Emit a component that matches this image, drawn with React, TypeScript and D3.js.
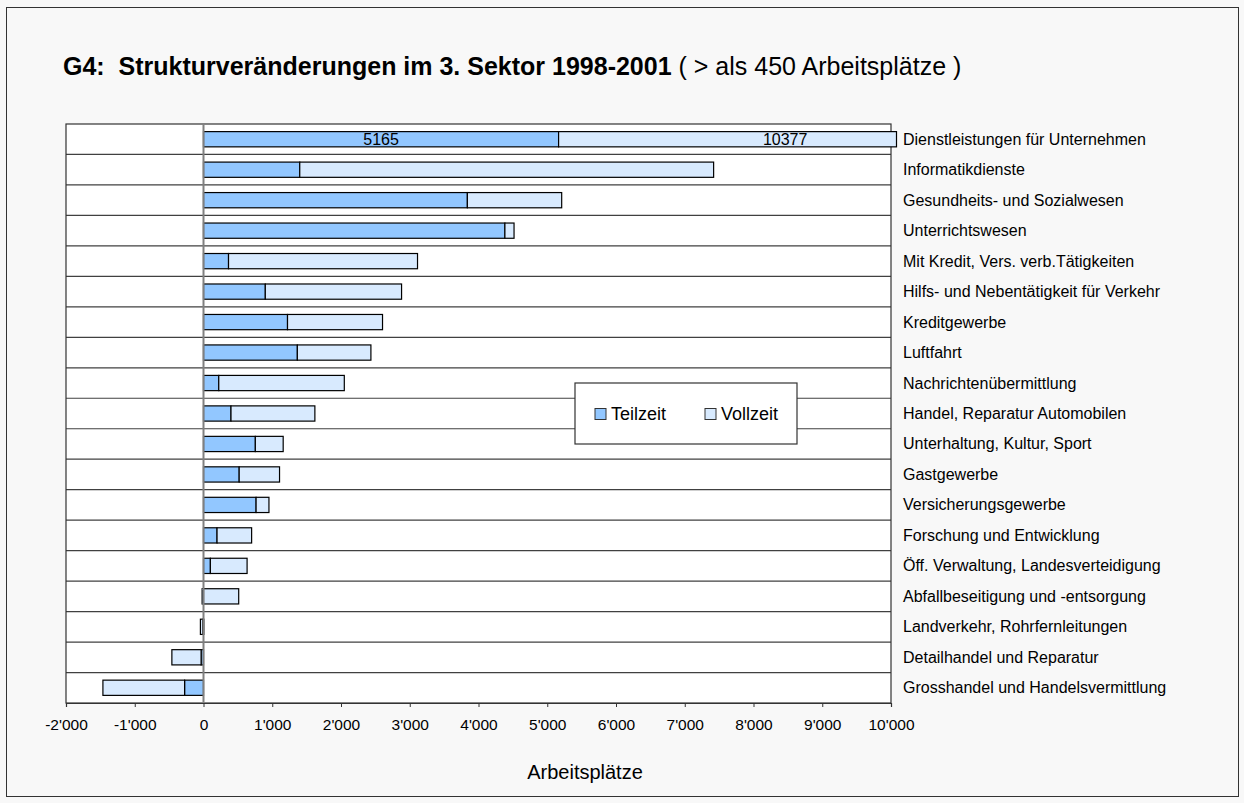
import { useEffect, useRef } from "react";
import * as d3 from "d3";

// categories, top to bottom
const categories = [
  "Dienstleistungen für Unternehmen",
  "Informatikdienste",
  "Gesundheits- und Sozialwesen",
  "Unterrichtswesen",
  "Mit Kredit, Vers. verb.Tätigkeiten",
  "Hilfs- und Nebentätigkeit für Verkehr",
  "Kreditgewerbe",
  "Luftfahrt",
  "Nachrichtenübermittlung",
  "Handel, Reparatur Automobilen",
  "Unterhaltung, Kultur, Sport",
  "Gastgewerbe",
  "Versicherungsgewerbe",
  "Forschung und Entwicklung",
  "Öff. Verwaltung, Landesverteidigung",
  "Abfallbeseitigung und -entsorgung",
  "Landverkehr, Rohrfernleitungen",
  "Detailhandel und Reparatur",
  "Grosshandel und Handelsvermittlung",
];

const teilzeit = [5165, 1400, 3838, 4384, 364, 899, 1222, 1365, 222, 400, 754, 519, 765, 197, 100, -20, -10, -35, -275];
const vollzeit = [10377, 6020, 1372, 133, 2749, 1982, 1382, 1070, 1826, 1220, 405, 587, 187, 503, 534, 512, -35, -425, -1188];

const xTicks = [-2000, -1000, 0, 1000, 2000, 3000, 4000, 5000, 6000, 7000, 8000, 9000, 10000];
const seriesNames = ["Teilzeit", "Vollzeit"];
const seriesColors = ["#92C7FF", "#D8EAFE"];

const W = 1244;
const H = 803;
const margin = { left: 66, right: 1244 - 891, top: 124, bottom: 803 - 703 };
const FONT = "'Liberation Sans', Arial, sans-serif";

// swiss thousands separator, plain hyphen for negatives
const fmt = (v: number) => d3.format(",")(v).replace(/,/g, "'").replace("\u2212", "-");

export default function App() {
  const ref = useRef<SVGSVGElement>(null);

  useEffect(() => {
    const svg = d3.select(ref.current);
    svg.selectAll("*").remove();

    const x = d3.scaleLinear().domain([-2000, 10000]).range([margin.left, W - margin.right]);
    const y = d3.scaleBand().domain(categories).range([margin.top, H - margin.bottom]).paddingInner(0).paddingOuter(0);
    const barH = y.bandwidth() * 0.5;

    // page background + outer frame
    svg.append("rect").attr("width", W).attr("height", H).attr("fill", "#F8F8F8");
    svg.append("rect").attr("x", 6.5).attr("y", 7.5).attr("width", W - 12).attr("height", H - 14)
      .attr("fill", "none").attr("stroke", "#333").attr("stroke-width", 1);

    // title
    const title = svg.append("text").attr("x", 63).attr("y", 75).attr("font-family", FONT).attr("font-size", 25).attr("fill", "#000");
    title.append("tspan").attr("font-weight", "bold").text("G4:\u00a0\u00a0Strukturveränderungen im 3. Sektor 1998-2001");
    title.append("tspan").text(" ( > als 450 Arbeitsplätze )");

    // plot area
    const x0 = x(-2000), x1 = x(10000);
    svg.append("rect").attr("x", x0).attr("y", margin.top).attr("width", x1 - x0).attr("height", H - margin.bottom - margin.top)
      .attr("fill", "#fff");

    // row separators
    const g = svg.append("g");
    categories.forEach((c, i) => {
      if (i === 0) return;
      g.append("line").attr("x1", x0).attr("x2", x1).attr("y1", y(c)!).attr("y2", y(c)!)
        .attr("stroke", "#404040").attr("stroke-width", 1.2);
    });
    svg.append("rect").attr("x", x0).attr("y", margin.top).attr("width", x1 - x0).attr("height", H - margin.bottom - margin.top)
      .attr("fill", "none").attr("stroke", "#333").attr("stroke-width", 1.2);

    // bars: positives and negatives stacked separately, clipped like the source
    const clipMax = 10080;
    const bars = svg.append("g");
    categories.forEach((c, i) => {
      const vals = [teilzeit[i], vollzeit[i]];
      let pos = 0, neg = 0;
      vals.forEach((v, k) => {
        let a: number, b: number;
        if (v >= 0) { a = pos; b = pos + v; pos = b; } else { a = neg; b = neg + v; neg = b; }
        const lo = Math.max(Math.min(a, b), -2000);
        const hi = Math.min(Math.max(a, b), clipMax);
        if (hi <= lo) return;
        bars.append("rect")
          .attr("x", x(lo)).attr("width", Math.max(x(hi) - x(lo), 1))
          .attr("y", y(c)! + (y.bandwidth() - barH) / 2).attr("height", barH)
          .attr("fill", seriesColors[k]).attr("stroke", "#000").attr("stroke-width", 1.2);
      });
    });

    // value labels for the clipped first bar
    const overflowLabelAt = 8460;
    const cy0 = y(categories[0])! + y.bandwidth() / 2;
    bars.append("text").attr("x", x(teilzeit[0] / 2)).attr("y", cy0 + 5.5).attr("text-anchor", "middle")
      .attr("font-family", FONT).attr("font-size", 16).text(teilzeit[0]);
    bars.append("text").attr("x", x(overflowLabelAt)).attr("y", cy0 + 5.5).attr("text-anchor", "middle")
      .attr("font-family", FONT).attr("font-size", 16).text(vollzeit[0]);

    // zero line
    svg.append("line").attr("x1", x(0)).attr("x2", x(0)).attr("y1", margin.top).attr("y2", H - margin.bottom)
      .attr("stroke", "#808080").attr("stroke-width", 2);

    // x axis
    const axis = svg.append("g").attr("transform", `translate(0,${H - margin.bottom})`)
      .call(d3.axisBottom(x).tickValues(xTicks).tickSize(4).tickPadding(12).tickFormat((d) => fmt(d as number)));
    axis.select(".domain").attr("stroke", "#333").attr("stroke-width", 1.2);
    axis.selectAll(".tick line").attr("stroke", "#333");
    axis.selectAll("text").attr("font-family", FONT).attr("font-size", 15.5).attr("fill", "#000");

    svg.append("text").attr("x", 585).attr("y", 779).attr("text-anchor", "middle")
      .attr("font-family", FONT).attr("font-size", 20).text("Arbeitsplätze");

    // category labels on the right
    svg.append("g").selectAll("text").data(categories).join("text")
      .attr("x", x1 + 12).attr("y", (d) => y(d)! + y.bandwidth() / 2 + 5.5)
      .attr("font-family", FONT).attr("font-size", 16).attr("fill", "#000").text((d) => d);

    // legend
    const lg = svg.append("g").attr("transform", "translate(575,383)");
    lg.append("rect").attr("width", 222).attr("height", 61).attr("fill", "#fff").attr("stroke", "#333").attr("stroke-width", 1.2);
    seriesNames.forEach((n, k) => {
      const lx = k === 0 ? 20 : 130;
      lg.append("rect").attr("x", lx).attr("y", 25.5).attr("width", 11).attr("height", 11)
        .attr("fill", seriesColors[k]).attr("stroke", "#333");
      lg.append("text").attr("x", lx + 16).attr("y", 37).attr("font-family", FONT).attr("font-size", 18).text(n);
    });
  }, []);

  return <svg ref={ref} width={W} height={H} style={{ display: "block", position: "absolute", left: 0, top: 0 }} />;
}
